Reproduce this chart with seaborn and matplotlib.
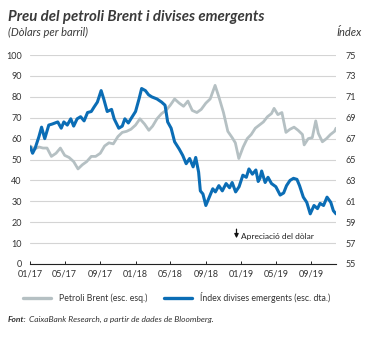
import matplotlib
matplotlib.use('Agg')
import matplotlib.pyplot as plt
import matplotlib.dates as mdates
from matplotlib.lines import Line2D
import seaborn as sns
import pandas as pd

# ---------------- data ----------------
brent_dates = ['2017-01-02','2017-01-16','2017-02-01','2017-02-15','2017-03-01','2017-03-16',
               '2017-04-01','2017-04-16','2017-05-01','2017-05-16','2017-06-01','2017-06-16',
               '2017-07-01','2017-07-16','2017-08-01','2017-08-16','2017-09-01','2017-09-16',
               '2017-10-01','2017-10-16','2017-11-01','2017-11-16','2017-12-01','2017-12-16',
               '2018-01-01','2018-01-16','2018-02-01','2018-02-16','2018-03-01','2018-03-16',
               '2018-04-01','2018-04-16','2018-05-01','2018-05-16','2018-06-01','2018-06-16',
               '2018-07-01','2018-07-16','2018-08-01','2018-08-16','2018-09-01','2018-09-16',
               '2018-10-03','2018-10-16','2018-11-01','2018-11-16','2018-12-01','2018-12-12',
               '2018-12-24','2019-01-08','2019-01-22','2019-02-05','2019-02-19','2019-03-05',
               '2019-03-19','2019-04-02','2019-04-16','2019-04-25','2019-05-08','2019-05-22',
               '2019-06-05','2019-06-19','2019-07-03','2019-07-17','2019-08-01','2019-08-07',
               '2019-08-21','2019-09-04','2019-09-16','2019-09-25','2019-10-09','2019-10-23',
               '2019-11-06','2019-11-20','2019-11-25']
brent_values = [56.5, 55, 56, 55.5, 55.5, 51.5,
                53, 55.5, 52, 51, 49, 45.5,
                47.5, 49, 51.5, 51.5, 53, 56.5,
                58, 57.5, 61, 63, 63.5, 64.5,
                66.5, 69.5, 67, 64, 66, 69.5,
                72, 73.5, 76, 79, 77, 75.5,
                78, 73.5, 72.5, 74, 77, 79,
                85.5, 80, 72.5, 63.5, 60.5, 58,
                50.5, 56, 60, 62, 65, 66.5,
                68, 70.5, 72, 74.5, 71.5, 72.5,
                63, 64.5, 65.5, 64, 62, 57,
                60, 60.5, 68.5, 62.5, 58.5, 60,
                62, 63.5, 65]

em_dates = ['2017-01-02','2017-01-10','2017-01-19','2017-02-01','2017-02-10','2017-02-21',
            '2017-03-07','2017-03-19','2017-04-07','2017-04-19','2017-04-28','2017-05-10',
            '2017-05-22','2017-06-01','2017-06-13','2017-06-25','2017-07-07','2017-07-19',
            '2017-08-01','2017-08-10','2017-08-22','2017-09-04','2017-09-13','2017-09-25',
            '2017-10-10','2017-10-19','2017-11-04','2017-11-16','2017-11-25','2017-12-07',
            '2017-12-16','2018-01-01','2018-01-13','2018-01-22','2018-02-04','2018-02-15',
            '2018-02-26','2018-03-16','2018-04-01','2018-04-13','2018-04-22','2018-05-04',
            '2018-05-16','2018-06-01','2018-06-13','2018-06-25','2018-07-07','2018-07-19',
            '2018-07-28','2018-08-07','2018-08-13','2018-08-22','2018-09-01','2018-09-13',
            '2018-09-25','2018-10-04','2018-10-16','2018-10-28','2018-11-10','2018-11-22',
            '2018-12-01','2018-12-13','2018-12-25','2019-01-07','2019-01-19','2019-01-28',
            '2019-02-09','2019-02-21','2019-03-01','2019-03-07','2019-03-13','2019-03-25',
            '2019-04-04','2019-04-16','2019-05-01','2019-05-16','2019-05-28','2019-06-07',
            '2019-06-19','2019-07-01','2019-07-13','2019-07-22','2019-08-04','2019-08-16',
            '2019-08-28','2019-09-10','2019-09-22','2019-10-01','2019-10-13','2019-10-25',
            '2019-11-07','2019-11-16','2019-11-25']
em_values = [66.2, 65.6, 66.1, 67.2, 68.1, 67.0,
             68.3, 68.4, 68.6, 68.0, 68.6, 68.3,
             68.9, 68.2, 68.9, 69.1, 68.7, 69.5,
             69.6, 70.0, 70.5, 71.6, 70.8, 69.6,
             69.8, 68.9, 68.0, 68.2, 68.9, 68.5,
             68.9, 69.6, 70.8, 71.8, 71.6, 71.2,
             71.0, 70.8, 70.5, 70.2, 68.6, 68.0,
             66.7, 66.0, 65.4, 64.6, 65.1, 64.3,
             65.2, 63.8, 62.0, 61.7, 60.6, 61.4,
             62.2, 61.9, 62.5, 62.0, 62.7, 62.3,
             62.8, 61.9, 62.4, 63.5, 63.3, 64.1,
             63.6, 64.0, 62.9, 63.2, 63.9, 62.8,
             63.3, 62.7, 62.4, 61.6, 61.8, 62.5,
             63.0, 63.2, 63.1, 62.5, 61.4, 60.9,
             59.8, 60.6, 60.3, 60.8, 60.6, 61.4,
             60.9, 60.1, 59.8]

left_ticks = list(range(0, 101, 10))
right_ticks = list(range(55, 76, 2))
x_tick_dates = ['2017-01-01','2017-05-01','2017-09-01','2018-01-01','2018-05-01',
                '2018-09-01','2019-01-01','2019-05-01','2019-09-01']

title = 'Preu del petroli Brent i divises emergents'
subtitle_left = '(Dòlars per barril)'
subtitle_right = 'Índex'
label_brent = 'Petroli Brent (esc. esq.)'
label_em = 'Índex divises emergents (esc. dta.)'
annot_text = 'Apreciació del dòlar'
source_bold = 'Font:'
source_text = 'CaixaBank Research, a partir de dades de Bloomberg.'

# ---------------- style ----------------
GREY = '#b5c0c3'
BLUE = '#0b6db5'
TXT = '#333333'

sns.set_theme(style='white')
plt.rcParams['font.family'] = ['Lato', 'DejaVu Sans']

df_b = pd.DataFrame({'date': pd.to_datetime(brent_dates), 'value': brent_values})
df_e = pd.DataFrame({'date': pd.to_datetime(em_dates), 'value': em_values})

fig = plt.figure(figsize=(3.68, 3.38), dpi=100)
ax = fig.add_axes([0.0815, 0.219, 0.8315, 0.618])
ax2 = ax.twinx()

sns.lineplot(data=df_b, x='date', y='value', ax=ax, color=GREY, lw=2.0)
sns.lineplot(data=df_e, x='date', y='value', ax=ax2, color=BLUE, lw=2.2)

ax.set_ylim(0, 100)
ax2.set_ylim(55, 75)
ax.set_yticks(left_ticks)
ax2.set_yticks(right_ticks)
ax.set_xlim(pd.Timestamp('2017-01-01'), pd.Timestamp('2019-11-25'))
ax.set_xticks(pd.to_datetime(x_tick_dates))
ax.xaxis.set_major_formatter(mdates.DateFormatter('%m/%y'))

for a in (ax, ax2):
    a.set_xlabel('')
    a.set_ylabel('')
    for s in a.spines.values():
        s.set_visible(False)
ax.spines['bottom'].set_visible(True)
ax.spines['bottom'].set_color('#222222')
ax.spines['bottom'].set_linewidth(0.8)

ax.grid(axis='y', color='#d4d4d4', lw=0.8)
ax.grid(axis='x', visible=False)
ax.set_axisbelow(True)
ax.tick_params(axis='y', length=0, labelsize=6.5, labelcolor=TXT, pad=6)
ax2.tick_params(axis='y', length=0, labelsize=6.5, labelcolor=TXT, pad=7)
ax.tick_params(axis='x', bottom=True, direction='in', length=2.5, width=0.7,
               color='#222222', labelsize=6.5, labelcolor=TXT, pad=4)

# annotation (arrow + text)
ax.annotate('', xy=(pd.Timestamp('2018-12-16'), 11.0), xytext=(pd.Timestamp('2018-12-16'), 18.0),
            arrowprops=dict(arrowstyle='-|>', color='#111111', lw=0.9, mutation_scale=6))
ax.text(pd.Timestamp('2019-01-01'), 13.3, annot_text, fontsize=6, color='#222222',
        ha='left', va='center')

# titles
fig.text(0.022, 0.938, title, fontsize=10.8, fontweight='bold', fontstyle='italic', color='#3a3a3a')
fig.text(0.022, 0.893, subtitle_left, fontsize=8, fontstyle='italic', color='#3a3a3a')
fig.text(0.982, 0.893, subtitle_right, fontsize=8, fontstyle='italic', color='#3a3a3a', ha='right')

# legend
handles = [Line2D([0], [0], color=GREY, lw=2.4), Line2D([0], [0], color=BLUE, lw=2.4)]
fig.legend(handles, [label_brent, label_em], loc='center', bbox_to_anchor=(0.48, 0.121),
           ncol=2, frameon=False, fontsize=6.3, handlelength=3.2, handletextpad=0.9,
           columnspacing=2.0, labelcolor=TXT)

# footnote
t1 = fig.text(0.022, 0.048, source_bold, fontsize=6, fontweight='bold', fontstyle='italic',
              color='#333333')
fig.canvas.draw()
bb = t1.get_window_extent()
x2 = fig.transFigure.inverted().transform((bb.x1 + 2, 0))[0]
fig.text(x2, 0.048, source_text, fontsize=6, fontstyle='italic', color='#333333')

fig.savefig('out.png', dpi=100)
